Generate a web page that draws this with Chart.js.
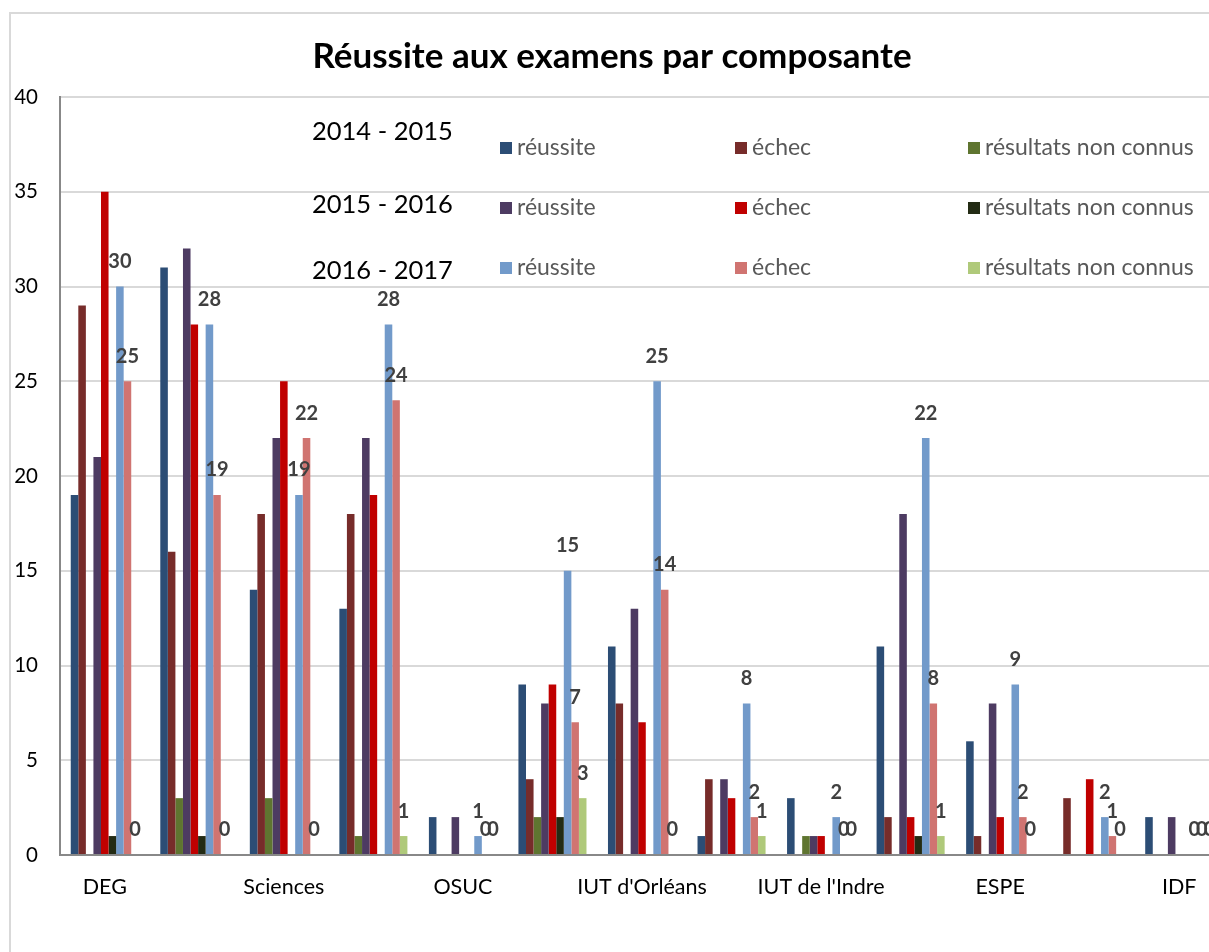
<!DOCTYPE html>
<html lang="fr">
<head>
<meta charset="utf-8">
<title>Réussite aux examens par composante</title>
<script src="https://cdn.jsdelivr.net/npm/chart.js@4/dist/chart.umd.min.js"></script>
<style>
  html, body { margin: 0; padding: 0; background: #fff; overflow: hidden; }
  #frame { position: absolute; left: 9px; top: 12px; width: 1400px; height: 1100px;
           border-left: 2px solid #D9D9D9; border-top: 2px solid #D9D9D9; }
  #wrap { position: absolute; left: 0; top: 0; width: 1224px; height: 952px; }
</style>
</head>
<body>
<div id="frame"></div>
<div id="wrap"><canvas id="chart"></canvas></div>
<script>
// categories (only every other one is labelled in the picture)
const composantes = ['DEG', '', 'Sciences', '', 'OSUC', '', "IUT d'Orléans", '', "IUT de l'Indre", '', 'ESPE', '', 'IDF'];

const years = ['2014 - 2015', '2015 - 2016', '2016 - 2017'];
const outcomes = ['réussite', 'échec', 'résultats non connus'];

// 2014 - 2015
const reussite1415 = [19, 31, 14, 13, 2, 9, 11, 1, 3, 11, 6, 0, 2];
const echec1415    = [29, 16, 18, 18, 0, 4, 8, 4, 0, 2, 1, 3, 0];
const nc1415       = [0, 3, 3, 1, 0, 2, 0, 0, 1, 0, 0, 0, 0];
// 2015 - 2016
const reussite1516 = [21, 32, 22, 22, 2, 8, 13, 4, 1, 18, 8, 0, 2];
const echec1516    = [35, 28, 25, 19, 0, 9, 7, 3, 1, 2, 2, 4, 0];
const nc1516       = [1, 1, 0, 0, 0, 2, 0, 0, 0, 1, 0, 0, 0];
// 2016 - 2017
const reussite1617 = [30, 28, 19, 28, 1, 15, 25, 8, 2, 22, 9, 2, 0];
const echec1617    = [25, 19, 22, 24, 0, 7, 14, 2, 0, 8, 2, 1, 0];
const nc1617       = [0, 0, 0, 1, 0, 3, 0, 1, 0, 1, 0, 0, 0];

const yTicks = [0, 5, 10, 15, 20, 25, 30, 35, 40];

const COLORS = [
  '#2C4D75', '#772C2A', '#5F7530',
  '#4D3B62', '#C00000', '#232B14',
  '#729ACA', '#D07471', '#AFC97A'
];
const FONT = "Lato, 'Open Sans', sans-serif";

const seriesData = [reussite1415, echec1415, nc1415, reussite1516, echec1516, nc1516, reussite1617, echec1617, nc1617];
const datasets = seriesData.map((d, i) => ({
  label: outcomes[i % 3] + ' ' + years[Math.floor(i / 3)],
  data: d,
  backgroundColor: COLORS[i],
  borderWidth: 0,
  barPercentage: 1.0,
  categoryPercentage: 0.76,
}));

// value labels for the 2016 - 2017 series only
const valueLabels = {
  id: 'valueLabels',
  afterDatasetsDraw(chart) {
    const ctx = chart.ctx;
    ctx.save();
    ctx.font = 'bold 20px ' + FONT;
    ctx.fillStyle = '#404040';
    ctx.textAlign = 'center';
    ctx.textBaseline = 'middle';
    for (let di = 6; di < 9; di++) {
      chart.getDatasetMeta(di).data.forEach((bar, j) => {
        ctx.fillText(String(chart.data.datasets[di].data[j]), bar.x, bar.y - 25);
      });
    }
    ctx.restore();
  }
};

// legend laid out as in the picture: one row per year, three columns
const yearLegend = {
  id: 'yearLegend',
  afterDraw(chart) {
    const ctx = chart.ctx;
    const yearY = [132, 205, 271];
    const itemY = [148, 208, 268];
    const colX = [500, 735, 968];
    ctx.save();
    ctx.textBaseline = 'middle';
    ctx.textAlign = 'left';
    years.forEach((yr, r) => {
      ctx.font = '25.5px ' + FONT;
      ctx.fillStyle = '#000';
      ctx.fillText(yr, 312, yearY[r]);
      outcomes.forEach((o, c) => {
        ctx.fillStyle = COLORS[r * 3 + c];
        ctx.fillRect(colX[c], itemY[r] - 6, 12, 12);
        ctx.font = '23px ' + FONT;
        ctx.fillStyle = '#595959';
        ctx.fillText(o, colX[c] + 17, itemY[r]);
      });
    });
    ctx.restore();
  }
};

new Chart(document.getElementById('chart').getContext('2d'), {
  type: 'bar',
  data: { labels: composantes, datasets },
  options: {
    responsive: true, maintainAspectRatio: false, animation: false,
    layout: { padding: 0 },
    scales: {
      x: {
        grid: { display: false, drawTicks: false },
        border: { color: '#888888', width: 2 },
        ticks: { autoSkip: false, maxRotation: 0, padding: 19, color: '#000', font: { family: FONT, size: 21.5 } },
        afterFit: s => { s.height = 97; }
      },
      y: {
        min: 0, max: 40,
        afterBuildTicks: s => { s.ticks = yTicks.map(v => ({ value: v })); },
        grid: { color: '#D9D9D9', lineWidth: 2, drawTicks: false },
        border: { color: '#888888', width: 2 },
        ticks: { padding: 22, color: '#000', font: { family: FONT, size: 20.5 } },
        afterFit: s => { s.width = 60; }
      }
    },
    plugins: {
      legend: { display: false },
      tooltip: { enabled: false },
      title: {
        display: true,
        text: 'Réussite aux examens par composante',
        color: '#000',
        font: { family: FONT, size: 35, weight: 'bold', lineHeight: 1.2 },
        padding: { top: 36, bottom: 19 }
      }
    }
  },
  plugins: [valueLabels, yearLegend]
});
</script>
</body>
</html>
